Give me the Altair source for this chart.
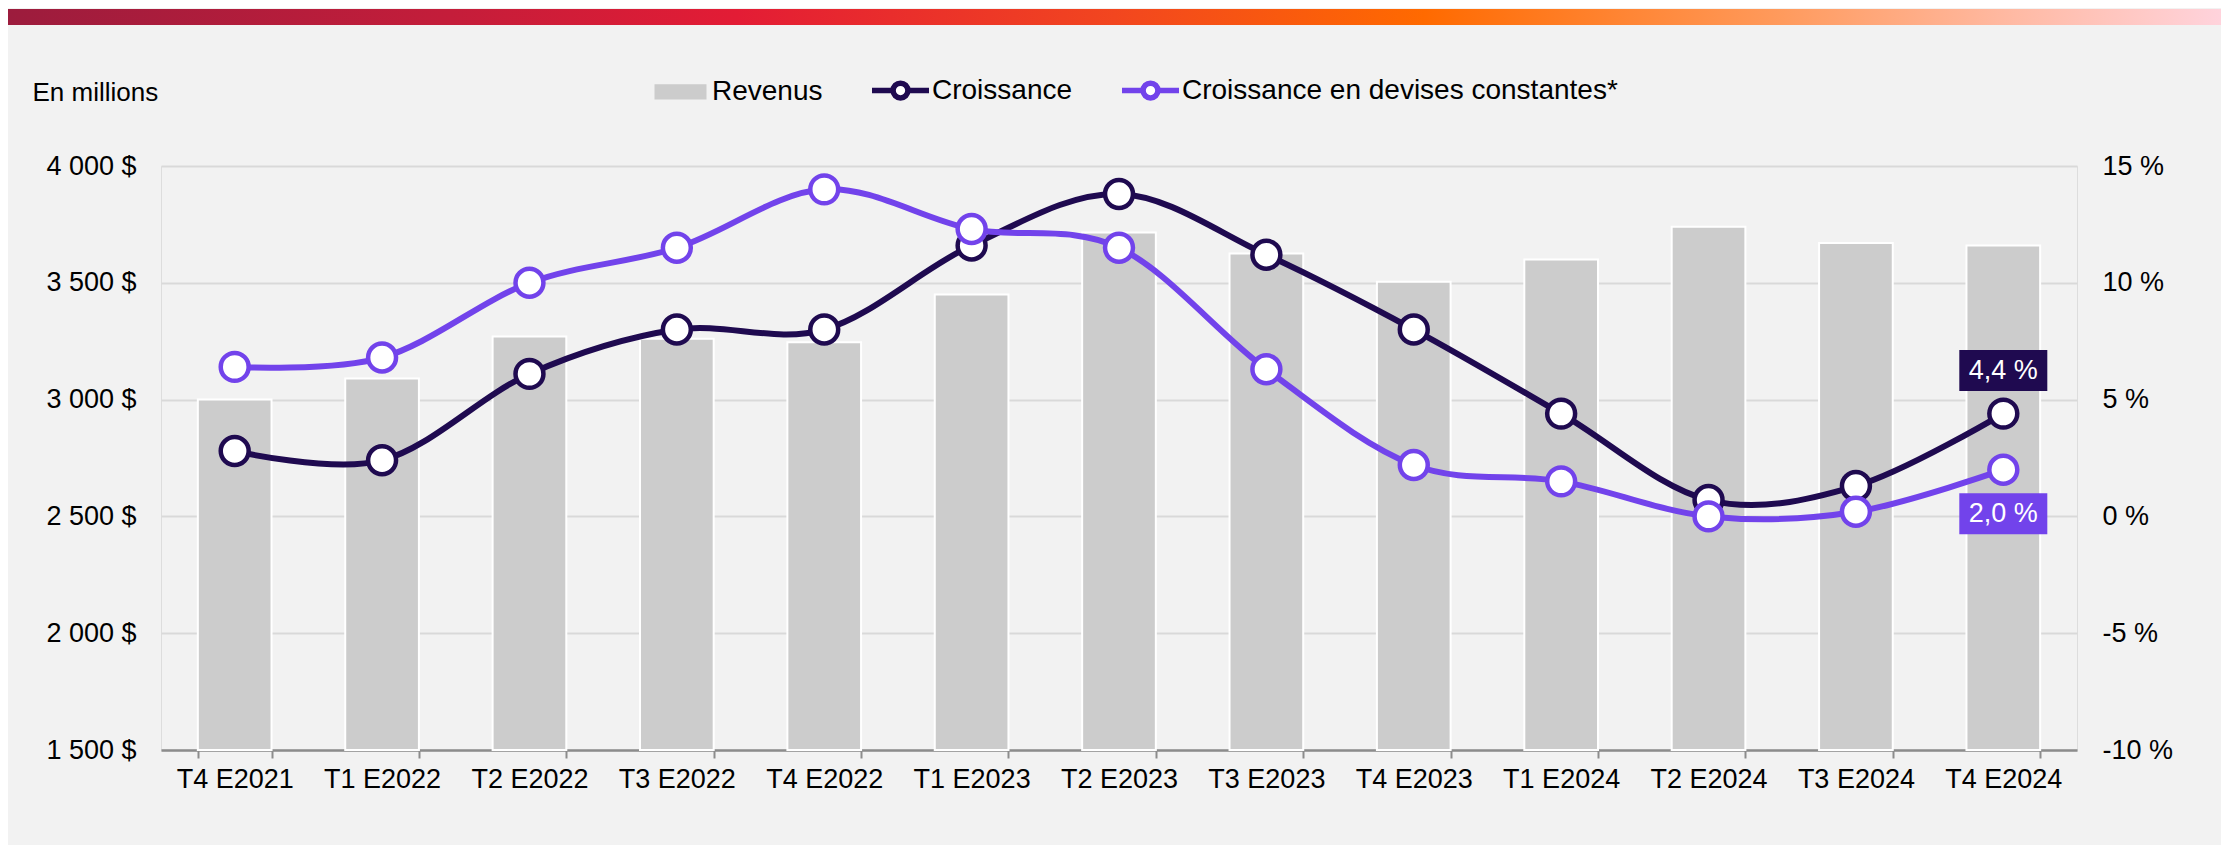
import altair as alt
import pandas as pd

# ---------------- data ----------------
cats = ["T4 E2021", "T1 E2022", "T2 E2022", "T3 E2022", "T4 E2022", "T1 E2023", "T2 E2023",
        "T3 E2023", "T4 E2023", "T1 E2024", "T2 E2024", "T3 E2024", "T4 E2024"]
revenue = [3000, 3090, 3270, 3260, 3245, 3450, 3715, 3625, 3505, 3600, 3740, 3670, 3660]
growth = [2.8, 2.4, 6.1, 8.0, 8.0, 11.6, 13.8, 11.2, 8.0, 4.4, 0.7, 1.3, 4.4]
growth_cc = [6.4, 6.8, 10.0, 11.5, 14.0, 12.3, 11.5, 6.3, 2.2, 1.5, 0.0, 0.2, 2.0]
series_names = ["Revenus", "Croissance", "Croissance en devises constantes*"]
left_ticks = [1500, 2000, 2500, 3000, 3500, 4000]
right_ticks = [-10, -5, 0, 5, 10, 15]

# ---------------- style ----------------
FONT = "Liberation Sans"
BAR = "#cccccc"
DARK = "#1f0a50"
PURPLE = "#7243eb"
BG = "#f2f2f2"
W, H = 1916, 584
PAD = {"left": 153, "top": 158, "right": 144, "bottom": 95}
grad_stops = [("#9c1c3d", 0.0), ("#c41d3a", 0.2), ("#e31c35", 0.33), ("#f2461f", 0.5),
              ("#ff6a00", 0.64), ("#ff9a5c", 0.8), ("#ffb8a0", 0.9), ("#ffd3dc", 1.0)]

bars_df = pd.DataFrame({"cat": cats, "rev": revenue})
g_df = pd.DataFrame({"cat": cats, "val": growth})
cc_df = pd.DataFrame({"cat": cats, "val": growth_cc})


def fr(v):
    return f"{v:.1f}".replace(".", ",") + " %"


ann_g = pd.DataFrame({"cat": [cats[-1]], "val": [growth[-1]], "label": [fr(growth[-1])]})
ann_cc = pd.DataFrame({"cat": [cats[-1]], "val": [growth_cc[-1]], "label": [fr(growth_cc[-1])]})
leg_df = pd.DataFrame({"series": series_names, "cat": [cats[0]] * 3, "val": [None] * 3})

x_enc = alt.X(
    "cat:N", sort=cats,
    scale=alt.Scale(paddingInner=0.5, paddingOuter=0.25),
    axis=alt.Axis(title=None, labelAngle=0, labelFontSize=27, labelColor="black", labelFont=FONT,
                  labelPadding=8, tickBand="extent", ticks=True, tickSize=8, tickColor="#8c8c8c",
                  tickWidth=2, domainColor="#8c8c8c", domainWidth=2.5, grid=False),
)

y_left = alt.Y(
    "rev:Q",
    scale=alt.Scale(domain=[1500, 4000], zero=False, nice=False),
    axis=alt.Axis(orient="left", values=left_ticks,
                  labelExpr="replace(format(datum.value, ','), ',', ' ') + ' $'",
                  grid=True, gridColor="#d9d9d9", gridWidth=2, domain=False, ticks=False,
                  labelPadding=25, labelFontSize=27, labelColor="black", labelFont=FONT,
                  title="En millions", titleAngle=0, titleX=-129, titleY=-66, titleAlign="left",
                  titleBaseline="alphabetic", titleFontSize=26, titleFontWeight="normal",
                  titleColor="black", titleFont=FONT),
)

y_right = alt.Y(
    "val:Q",
    scale=alt.Scale(domain=[-10, 15], zero=False, nice=False),
    axis=alt.Axis(orient="right", values=right_ticks, labelExpr="datum.value + ' %'",
                  grid=False, domain=False, ticks=False, labelPadding=25, labelFontSize=27,
                  labelColor="black", labelFont=FONT, title=None),
)

gradient = alt.LinearGradient(
    gradient="linear", x1=0, x2=1, y1=0, y2=0,
    stops=[alt.GradientStop(color=c, offset=o) for c, o in grad_stops],
)

top_band = alt.Chart(alt.Data(values=[{"k": 1}])).mark_rect(fill=gradient, strokeWidth=0).encode(
    x=alt.value(-PAD["left"]), x2=alt.value(W + PAD["right"]),
    y=alt.value(-157), y2=alt.value(-141),
)

bars = alt.Chart(bars_df).mark_bar(color=BAR, stroke="white", strokeWidth=2).encode(
    x=x_enc, y=y_left, y2=alt.Y2Datum(datum=1500)
)

left = alt.layer(top_band, bars)


def line_layers(df, color):
    ln = alt.Chart(df).mark_line(color=color, strokeWidth=6, interpolate="cardinal").encode(
        x=x_enc, y=y_right)
    pt = alt.Chart(df).mark_point(filled=True, fill="white", stroke=color, strokeWidth=4.5,
                                  size=780, opacity=1).encode(x=x_enc, y=y_right)
    return [ln, pt]


BOX = "M-1,-0.466H1V0.466H-1Z"


def annot(df, color, off):
    box = alt.Chart(df).mark_point(shape=BOX, size=88 * 88, filled=True, fill=color, opacity=1,
                                   strokeWidth=0, yOffset=off).encode(x=x_enc, y=y_right)
    txt = alt.Chart(df).mark_text(color="white", fontSize=27, font=FONT, yOffset=off,
                                  baseline="middle", align="center").encode(
        x=x_enc, y=y_right, text="label:N")
    return [box, txt]


RECT_PATH = "M-0.816,-0.167H0.816V0.167H-0.816Z"
LC_PATH = "M-1,0H-0.26M0.26,0H1M0.26,0A0.26,0.26,0,1,1,-0.26,0A0.26,0.26,0,1,1,0.26,0Z"

leg = alt.Legend(title=None, orient="none", legendX=488, legendY=-107, direction="horizontal",
                 labelFontSize=28, labelFont=FONT, labelColor="black", labelOffset=0,
                 columnPadding=38, symbolSize=57 * 57, symbolStrokeWidth=5.5, padding=0,
                 symbolOpacity=1, labelLimit=0)

legend_layer = alt.Chart(leg_df).mark_point(filled=True, opacity=1, strokeWidth=5.5).encode(
    x=x_enc, y=y_right,
    shape=alt.Shape("series:N", scale=alt.Scale(domain=series_names,
                                                range=[RECT_PATH, LC_PATH, LC_PATH]), legend=leg),
    fill=alt.Fill("series:N", scale=alt.Scale(domain=series_names,
                                              range=[BAR, "white", "white"]), legend=leg),
    stroke=alt.Stroke("series:N", scale=alt.Scale(domain=series_names,
                                                  range=[BAR, DARK, PURPLE]), legend=leg),
)

right = alt.layer(
    *line_layers(g_df, DARK),
    *line_layers(cc_df, PURPLE),
    legend_layer,
    *annot(ann_g, DARK, -43),
    *annot(ann_cc, PURPLE, 44),
)

chart = alt.layer(left, right).resolve_scale(y="independent").properties(
    width=W, height=H, padding=PAD, autosize=alt.AutoSizeParams(type="none"),
    background=BG,
).configure_view(stroke=None).configure(font=FONT)

chart.save("out.html", embed_options={"renderer": "svg", "actions": False})
